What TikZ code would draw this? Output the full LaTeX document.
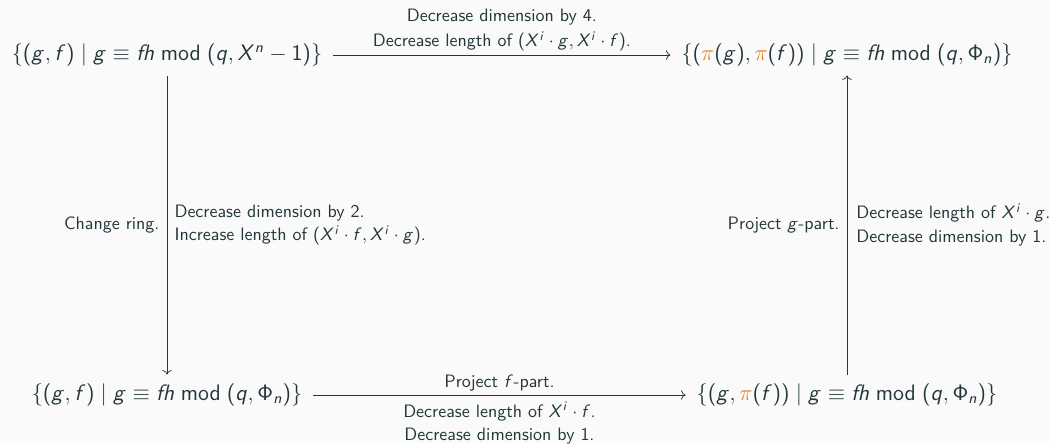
\documentclass[tikz,border=0pt]{standalone}
\usetikzlibrary{arrows.meta}
\usepackage{amsmath}
\usepackage{graphicx}
\DeclareSymbolFont{sfit}{OT1}{cmss}{m}{sl}
\SetSymbolFont{operators}{normal}{OT1}{cmss}{m}{n}
\DeclareMathSymbol{f}{\mathalpha}{sfit}{`f}
\DeclareMathSymbol{g}{\mathalpha}{sfit}{`g}
\DeclareMathSymbol{h}{\mathalpha}{sfit}{`h}
\DeclareMathSymbol{i}{\mathalpha}{sfit}{`i}
\DeclareMathSymbol{n}{\mathalpha}{sfit}{`n}
\DeclareMathSymbol{q}{\mathalpha}{sfit}{`q}
\DeclareMathSymbol{X}{\mathalpha}{sfit}{`X}
\renewcommand\familydefault{\sfdefault}
\definecolor{mDark}{HTML}{23373B}
\definecolor{mOrange}{HTML}{EB811B}
\definecolor{mBg}{HTML}{FAFAFA}
\newcommand{\pio}{\textcolor{mOrange}{\pi}}
\newcommand{\fml}[1]{\scalebox{1.035}{$#1$}}
\begin{document}
\begin{tikzpicture}[x=0.5566pt,y=-0.5566pt,
  every node/.style={text=mDark},
  obj/.style={inner xsep=6pt, inner ysep=5pt, font=\large},
  arr/.style={draw=mDark, line width=0.4pt, -{Computer Modern Rightarrow}},
  lab/.style={align=center, inner sep=2pt},
  labl/.style={align=left, inner xsep=4pt},
  labr/.style={align=right, inner xsep=4pt}]
\fill[mBg] (0,0) rectangle (1050,443);
\useasboundingbox (0,0) rectangle (1050,443);
\node[obj] (tl) at (167,55) {\fml{\{(g,f)\mid g\equiv fh \bmod (q,X^n-1)\}}};
\node[obj] (tr) at (847,55) {\fml{\{(\pio(g),\pio(f))\mid g\equiv fh\bmod(q,\Phi_n)\}}};
\node[obj] (bl) at (167,395) {\fml{\{(g,f)\mid g\equiv fh\bmod(q,\Phi_n)\}}};
\node[obj] (br) at (847,395) {\fml{\{(g,\pio(f))\mid g\equiv fh\bmod(q,\Phi_n)\}}};
\draw[arr] (tl) -- (tr)
  node[midway, above, lab] (t1) {Decrease dimension by 4.\\[1.8pt] Decrease length of $(X^i\cdot g,X^i\cdot f)$.};
\draw[arr] (tl) -- (bl)
  node[midway, left, labr] (l1) {Change ring.}
  node[midway, right, labl] (l2) {Decrease dimension by 2.\\[1.3pt] Increase length of $(X^i\cdot f,X^i\cdot g)$.};
\draw[arr] (bl) -- (br)
  node[midway, above, lab] (b1) {Project $f$-part.}
  node[midway, below, lab, inner ysep=3.7pt] (b2) {Decrease length of $X^i\cdot f$.\\[1pt] Decrease dimension by 1.};
\draw[arr] (br) -- (tr)
  node[midway, left, labr] (r1) {Project $g$-part.}
  node[midway, right, labl, inner xsep=5pt] (r2) {Decrease length of $X^i\cdot g$.\\[1.3pt] Decrease dimension by 1.};
\end{tikzpicture}
\end{document}
